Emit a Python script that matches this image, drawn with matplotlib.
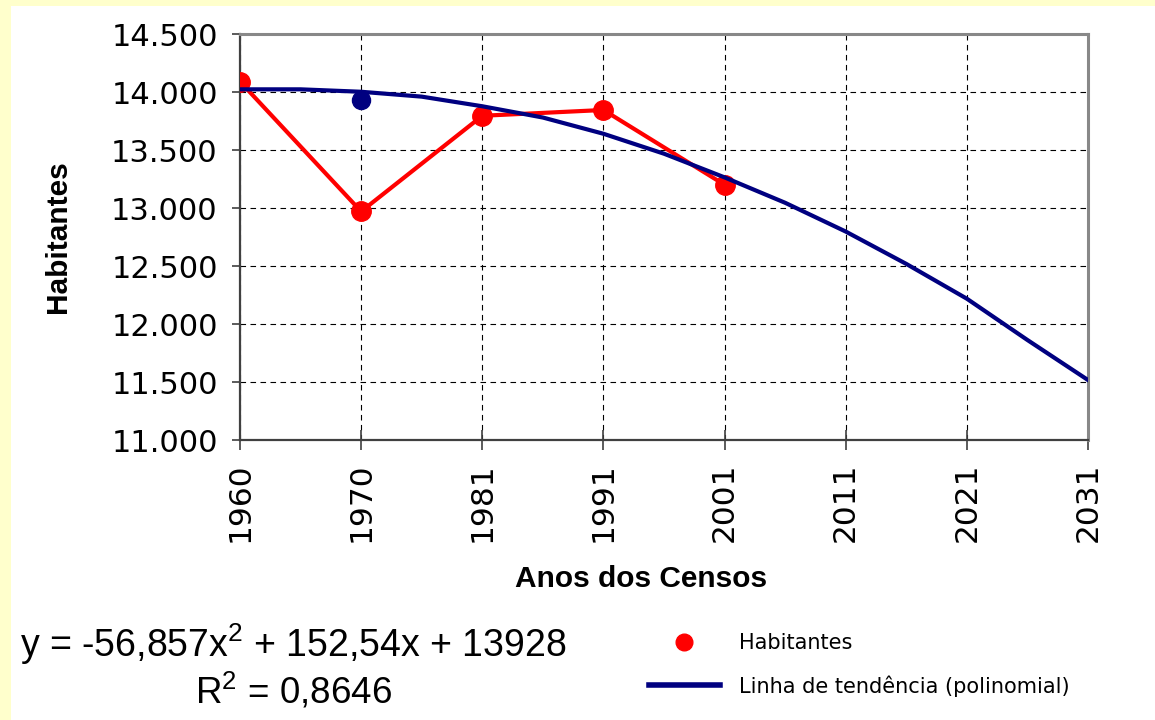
import matplotlib
matplotlib.use('Agg')
import matplotlib.pyplot as plt
from matplotlib.lines import Line2D
from matplotlib.patches import Rectangle
from matplotlib.ticker import FuncFormatter, MultipleLocator

# census data
anos = ['1960', '1970', '1981', '1991', '2001', '2011', '2021', '2031']
habitantes = [14090, 12970, 13795, 13845, 13200]
ponto_azul_ano = 1          # index of the odd blue dot (1970)
ponto_azul_valor = 13930

# trend line, every half step from 1960 to 2031
tend_x = [0, 0.5, 1, 1.5, 2, 2.5, 3, 3.5, 4, 4.5, 5, 5.5, 6, 6.5, 7]
tend_y = [14023, 14023, 14002, 13960, 13877, 13780, 13640, 13468, 13264,
          13045, 12797, 12518, 12218, 11862, 11517]

equacao = 'y = -56,857x$\\mathregular{^2}$ + 152,54x + 13928'
r2 = 'R$\\mathregular{^2}$ = 0,8646'

plt.rcParams['font.family'] = 'DejaVu Sans'

fig = plt.figure(figsize=(11.55, 7.2), dpi=100, facecolor='#FFFFCC')
fig.add_artist(Rectangle((11 / 1155, 0), 1, 1 - 6 / 720, transform=fig.transFigure,
                         facecolor='white', edgecolor='none', zorder=0))

ax = fig.add_axes([240 / 1155, 280 / 720, 848 / 1155, 406 / 720])
ax.set_facecolor('white')

ax.plot(range(len(habitantes)), habitantes, color='red', lw=3,
        marker='o', markersize=14, zorder=3)
ax.plot([ponto_azul_ano], [ponto_azul_valor], 'o', color='#000080',
        markersize=13, zorder=3)
ax.plot(tend_x, tend_y, color='#000080', lw=3, zorder=4)

ax.set_xlim(0, len(anos) - 1)
ax.set_ylim(11000, 14500)
ax.set_xticks(range(len(anos)))
ax.set_xticklabels(anos, rotation=90)
ax.yaxis.set_major_locator(MultipleLocator(500))
ax.yaxis.set_major_formatter(FuncFormatter(lambda v, p: f'{v:,.0f}'.replace(',', '.')))

ax.grid(True, color='black', lw=0.8, linestyle=(0, (5, 4)))
ax.set_axisbelow(True)

ax.tick_params(axis='y', direction='out', length=6, width=1.2, color='#404040',
               labelsize=22, pad=10)
ax.tick_params(axis='x', direction='inout', length=14, width=1.2, color='#404040',
               labelsize=22.5, pad=9)

for s in ['left', 'bottom']:
    ax.spines[s].set_color('#404040')
    ax.spines[s].set_linewidth(1.6)
for s in ['top', 'right']:
    ax.spines[s].set_color('#888888')
    ax.spines[s].set_linewidth(2.2)

ax.set_ylabel('Habitantes', family='Liberation Sans', fontsize=21.5,
              fontweight='bold', labelpad=28)
ax.set_xlabel('Anos dos Censos', family='Liberation Sans', fontsize=21.5,
              fontweight='bold')
ax.xaxis.set_label_coords(0.473, -0.308)

fig.text(293 / 1155, 1 - 657 / 720, equacao, family='Liberation Sans',
         fontsize=27, ha='center', va='baseline')
fig.text(293 / 1155, 1 - 703 / 720, r2, family='Liberation Sans',
         fontsize=26.5, ha='center', va='baseline')

handles = [Line2D([], [], color='red', marker='o', ls='none', markersize=12),
           Line2D([], [], color='#000080', lw=4)]
fig.legend(handles, ['Habitantes', 'Linha de tendência (polinomial)'],
           loc='center left', bbox_to_anchor=(649 / 1155, 1 - 665 / 720),
           frameon=False, fontsize=15, handlelength=3.4, handletextpad=0.9,
           labelspacing=1.05, borderpad=0, borderaxespad=0)

fig.savefig('out.png', dpi=100, facecolor=fig.get_facecolor())
